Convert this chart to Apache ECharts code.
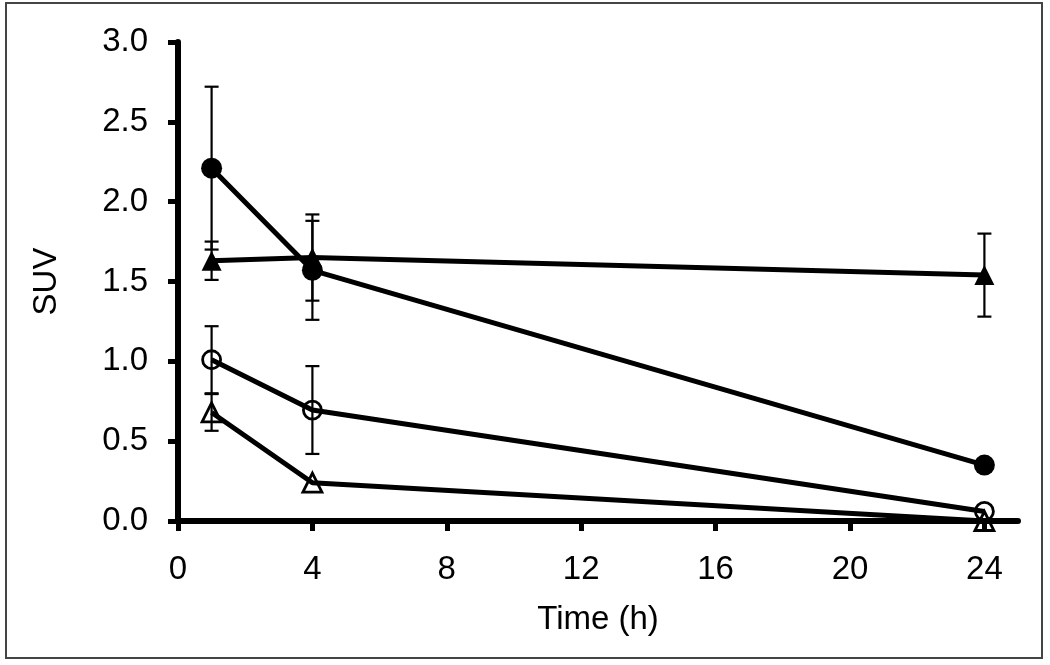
<!DOCTYPE html>
<html>
<head>
<meta charset="utf-8">
<script src="https://cdn.jsdelivr.net/npm/echarts@6/dist/echarts.min.js"></script>
<style>html,body{margin:0;padding:0;background:#fff;}#c{width:1050px;height:665px;}</style>
</head>
<body>
<div id="c"></div>
<script>
const times = [1, 4, 24];
const xTicks = [0, 4, 8, 12, 16, 20, 24];
const filledCircle = [2.21, 1.57, 0.35];
const filledCircleErr = [0.51, 0.31, 0.0];
const filledTriangle = [1.63, 1.65, 1.54];
const filledTriangleErr = [0.12, 0.27, 0.26];
const openCircle = [1.01, 0.695, 0.06];
const openCircleErr = [0.21, 0.275, 0.0];
const openTriangle = [0.68, 0.24, 0.0];
const openTriangleErr = [0.115, 0.0, 0.0];

const FONT = '"Liberation Sans", Arial, sans-serif';

function pts(vals) { return times.map((t, i) => [t, vals[i]]); }
function errData(vals, errs) { return times.map((t, i) => [t, vals[i] - errs[i], vals[i] + errs[i]]); }

function errSeries(vals, errs) {
  return {
    type: 'custom',
    silent: true,
    z: 3,
    data: errData(vals, errs),
    renderItem: function (params, api) {
      const lo = api.coord([api.value(0), api.value(1)]);
      const hi = api.coord([api.value(0), api.value(2)]);
      if (Math.abs(hi[1] - lo[1]) < 1) return null;
      const hw = 7;
      const st = { stroke: '#000', lineWidth: 2.2 };
      return {
        type: 'group',
        children: [
          { type: 'line', shape: { x1: lo[0], y1: lo[1], x2: hi[0], y2: hi[1] }, style: st },
          { type: 'line', shape: { x1: lo[0] - hw, y1: lo[1], x2: lo[0] + hw, y2: lo[1] }, style: st },
          { type: 'line', shape: { x1: hi[0] - hw, y1: hi[1], x2: hi[0] + hw, y2: hi[1] }, style: st }
        ]
      };
    }
  };
}

function lineSeries(vals, symbol, size, filled) {
  return {
    type: 'line',
    data: pts(vals),
    symbol: symbol,
    symbolSize: size,
    showAllSymbol: true,
    z: 4,
    lineStyle: { color: '#000', width: 5 },
    itemStyle: filled
      ? { color: '#000', borderColor: '#000', borderWidth: 0 }
      : { color: 'rgba(255,255,255,0)', borderColor: '#000', borderWidth: 2.8 },
    emphasis: { disabled: true }
  };
}

const chart = echarts.init(document.getElementById('c'), null, { renderer: 'canvas' });
chart.setOption({
  animation: false,
  backgroundColor: '#fff',
  graphic: [{
    type: 'rect',
    shape: { x: 6, y: 3, width: 1036, height: 655 },
    style: { fill: 'none', stroke: '#444', lineWidth: 2 },
    z: 0
  }],
  grid: { left: 178, top: 42, right: 32, bottom: 144, containLabel: false },
  xAxis: {
    type: 'value',
    min: 0, max: 25, interval: 4,
    name: 'Time (h)',
    nameLocation: 'middle',
    nameGap: 82,
    nameTextStyle: { fontFamily: FONT, fontSize: 33, color: '#000' },
    axisLine: { show: true, onZero: false, lineStyle: { color: '#000', width: 6 } },
    axisTick: { show: true, inside: false, length: 10, lineStyle: { color: '#000', width: 5 }, customValues: xTicks },
    axisLabel: { fontFamily: FONT, fontSize: 33, color: '#000', margin: 32, customValues: xTicks },
    splitLine: { show: false }
  },
  yAxis: {
    type: 'value',
    min: 0, max: 3, interval: 0.5,
    name: 'SUV',
    nameLocation: 'middle',
    nameGap: 115,
    nameTextStyle: { fontFamily: FONT, fontSize: 33, color: '#000' },
    axisLine: { show: true, lineStyle: { color: '#000', width: 6 } },
    axisTick: { show: true, inside: false, length: 10, lineStyle: { color: '#000', width: 5 } },
    axisLabel: { fontFamily: FONT, fontSize: 33, color: '#000', margin: 30, formatter: v => v.toFixed(1) },
    splitLine: { show: false }
  },
  series: [
    errSeries(filledCircle, filledCircleErr),
    errSeries(filledTriangle, filledTriangleErr),
    errSeries(openCircle, openCircleErr),
    errSeries(openTriangle, openTriangleErr),
    lineSeries(filledCircle, 'circle', 21, true),
    lineSeries(filledTriangle, 'triangle', 20, true),
    lineSeries(openCircle, 'circle', 18, false),
    lineSeries(openTriangle, 'triangle', 19, false)
  ]
});
</script>
</body>
</html>
